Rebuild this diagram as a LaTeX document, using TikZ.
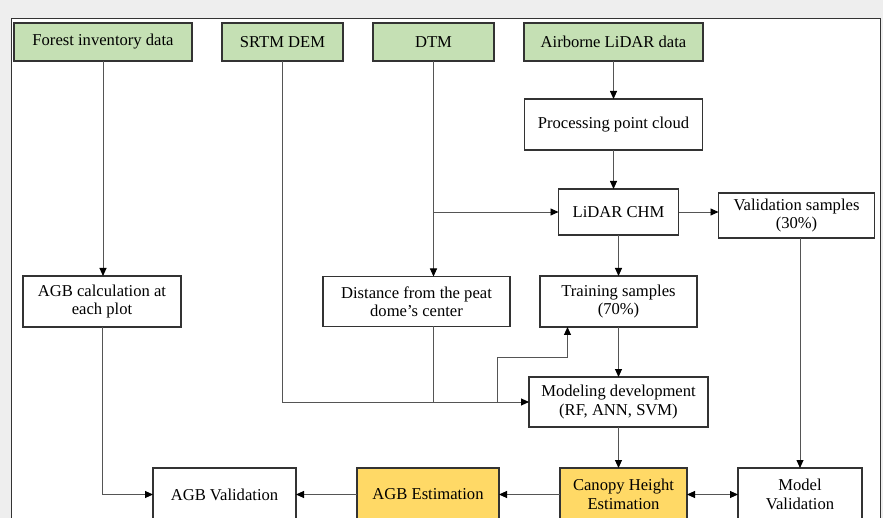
\documentclass[tikz,border=0pt]{standalone}
\usepackage{fontspec}
\setmainfont{Liberation Serif}
\usetikzlibrary{arrows.meta,positioning}
\definecolor{srcGreen}{HTML}{C5E0B4}
\definecolor{estYellow}{HTML}{FFD966}
\definecolor{pageGray}{HTML}{EEEEEE}
\definecolor{edgeDark}{HTML}{333333}
\definecolor{lineGray}{HTML}{555555}

\begin{document}
\begin{tikzpicture}[x=1pt,y=-1pt,every node/.style={font=\fontsize{16.6pt}{18.5pt}\selectfont},node distance=30pt]
      \tikzstyle{src}=[draw=edgeDark,line width=1.3pt,fill=srcGreen,outer sep=0pt,
                       minimum height=38pt,align=center,inner sep=2pt]
      \tikzstyle{box}=[draw=edgeDark,line width=1.3pt,fill=white,outer sep=0pt,
                       align=center,inner sep=2pt]
      \tikzstyle{est}=[box,fill=estYellow]
      \tikzstyle{link}=[draw=lineGray,line width=0.9pt]
      \tikzstyle{arr}=[link,-{Triangle[length=8pt,width=7pt,color=black]}]
      \tikzstyle{arr2}=[link,{Triangle[length=8pt,width=7pt,color=black]}-{Triangle[length=8pt,width=7pt,color=black]}]
      % page and frame, cut at the lower edge
      \useasboundingbox (0,0) rectangle (883,518);
      \clip (0,0) rectangle (883,518);
      \fill[pageGray] (0,0) rectangle (883,518);
      \draw[edgeDark,fill=white,line width=1pt] (11,19) rectangle (880,540);
      % input data
      \node[src,minimum width=178pt] (fid) at (103,42) {Forest inventory data};
      \node[src,minimum width=121pt,right=30pt of fid] (srtm) {SRTM DEM};
      \node[src,minimum width=121pt,right=30pt of srtm] (dtm) {DTM};
      \node[src,minimum width=179pt,right=30pt of dtm] (als) {Airborne LiDAR data};
      % processing steps
      \node[box,minimum width=178pt,minimum height=51pt,below=38pt of als] (ppc) {Processing point cloud};
      \node[box,minimum width=120pt,minimum height=46pt,below=39pt of ppc,xshift=5pt] (chm) {LiDAR CHM};
      \node[box,minimum width=156pt,minimum height=45pt,right=40pt of chm,yshift=-3.5pt] (vs)
            {Validation samples\\(30\%)};
      \node[box,minimum width=157pt,minimum height=51pt,below=41pt of chm] (train)
            {Training samples\\(70\%)};
      \node[box,minimum width=187pt,minimum height=50pt,left=30pt of train] (dist)
            {Distance from the peat\\dome's center};
      \node[box,minimum width=158pt,minimum height=51pt,left=142pt of dist] (agbc)
            {AGB calculation at\\each plot};
      \node[box,minimum width=179pt,minimum height=50pt,below=50pt of train] (model)
            {Modeling development\\(RF, ANN, SVM)};
      % estimation and validation
      \node[est,minimum width=127pt,minimum height=53pt,below=41pt of model,xshift=5pt] (che)
            {Canopy Height\\Estimation};
      \node[box,minimum width=124pt,minimum height=53pt,right=51pt of che] (mval) {Model\\Validation};
      \node[est,minimum width=142pt,minimum height=53pt,left=61pt of che] (agbe) {AGB Estimation};
      \node[box,minimum width=143pt,minimum height=53pt,left=61pt of agbe] (agbv) {AGB Validation};
      % connectors
      \draw[arr] (fid.south) -- (fid.south |- agbc.north);
      \draw[arr] (srtm) |- (model);
      \draw[arr] (dtm.south) -- (dtm.south |- dist.north);
      \draw[arr] (dtm.south |- chm) -- (chm);
      \draw[link] (dtm.south |- dist.south) -- (dtm.south |- model);
      \coordinate (jn) at ([xshift=-32pt]model.west);
      \draw[arr] (jn) |- ([xshift=-51pt,yshift=-30pt]train.south) -- ([xshift=-51pt]train.south);
      \draw[arr] (als) -- (ppc);
      \draw[arr] (ppc.south) -- (ppc.south |- chm.north);
      \draw[arr] (chm) -- (train);
      \draw[arr] (chm.east) -- (chm.east -| vs.west);
      \draw[arr] (train) -- (model);
      \draw[arr] (mval.north |- vs.south) -- (mval.north);
      \draw[arr] (model.south) -- (model.south |- che.north);
      \draw[arr2] (che) -- (mval);
      \draw[arr] (che) -- (agbe);
      \draw[arr] (agbe) -- (agbv);
      \draw[arr] (agbc) |- (agbv);
    \end{tikzpicture}
\end{document}
